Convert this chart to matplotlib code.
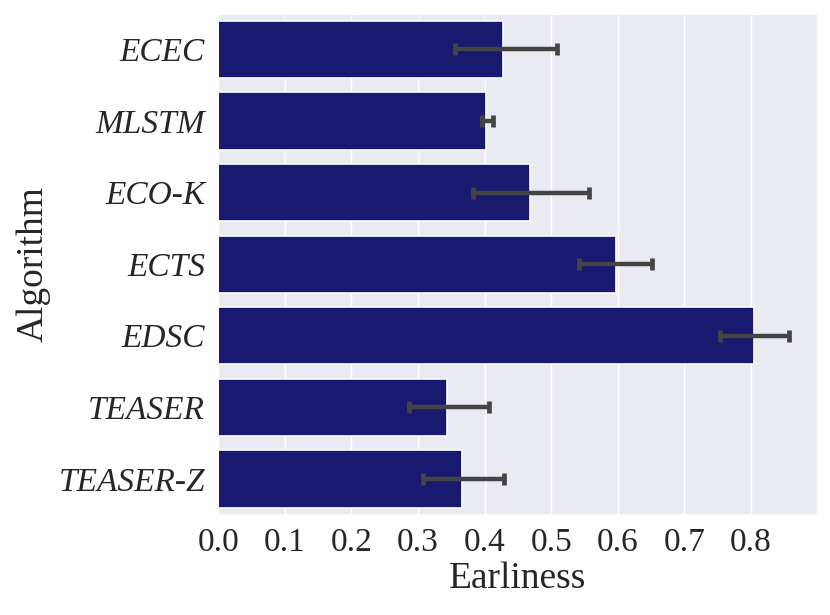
import matplotlib
matplotlib.use("Agg")
import matplotlib.pyplot as plt
import seaborn as sns

algorithms = ["ECEC", "MLSTM", "ECO-K", "ECTS", "EDSC", "TEASER", "TEASER-Z"]
earliness = [0.428, 0.402, 0.468, 0.597, 0.805, 0.343, 0.366]
ci_low = [0.355, 0.396, 0.383, 0.541, 0.754, 0.287, 0.308]
ci_high = [0.509, 0.413, 0.557, 0.651, 0.857, 0.406, 0.429]

sns.set_theme(style="darkgrid")
plt.rcParams["font.family"] = ["Liberation Serif", "DejaVu Serif"]

fig = plt.figure(figsize=(8.3, 6.15), dpi=100)
ax = fig.add_axes([0.263, 0.163, 0.722, 0.815])

ypos = list(range(len(algorithms)))
xerr = [[e - lo for e, lo in zip(earliness, ci_low)],
        [hi - e for e, hi in zip(earliness, ci_high)]]
ax.barh(ypos, earliness, height=0.8, color="midnightblue", edgecolor="white", linewidth=1.2)
_, caps, lines = ax.errorbar(earliness, ypos, xerr=xerr, fmt="none", ecolor="#444444",
                             elinewidth=3.2, capsize=4.5, capthick=3.4)
for ln in lines:
    ln.set_capstyle("round")

ax.grid(axis="y", visible=False)
ax.set_yticks(ypos)
ax.set_yticklabels(algorithms, fontstyle="italic", fontsize=24)
ax.set_ylim(len(algorithms) - 0.5, -0.5)
ax.set_xlim(0, 0.9)
ax.set_xticks([0.0, 0.1, 0.2, 0.3, 0.4, 0.5, 0.6, 0.7, 0.8])
ax.set_xticklabels(["0.0", "0.1", "0.2", "0.3", "0.4", "0.5", "0.6", "0.7", "0.8"], fontsize=24)
ax.set_xlabel("Earliness", fontsize=27, labelpad=2)
ax.set_ylabel("Algorithm", fontsize=27, labelpad=6)

plt.savefig("out.png", dpi=100)
